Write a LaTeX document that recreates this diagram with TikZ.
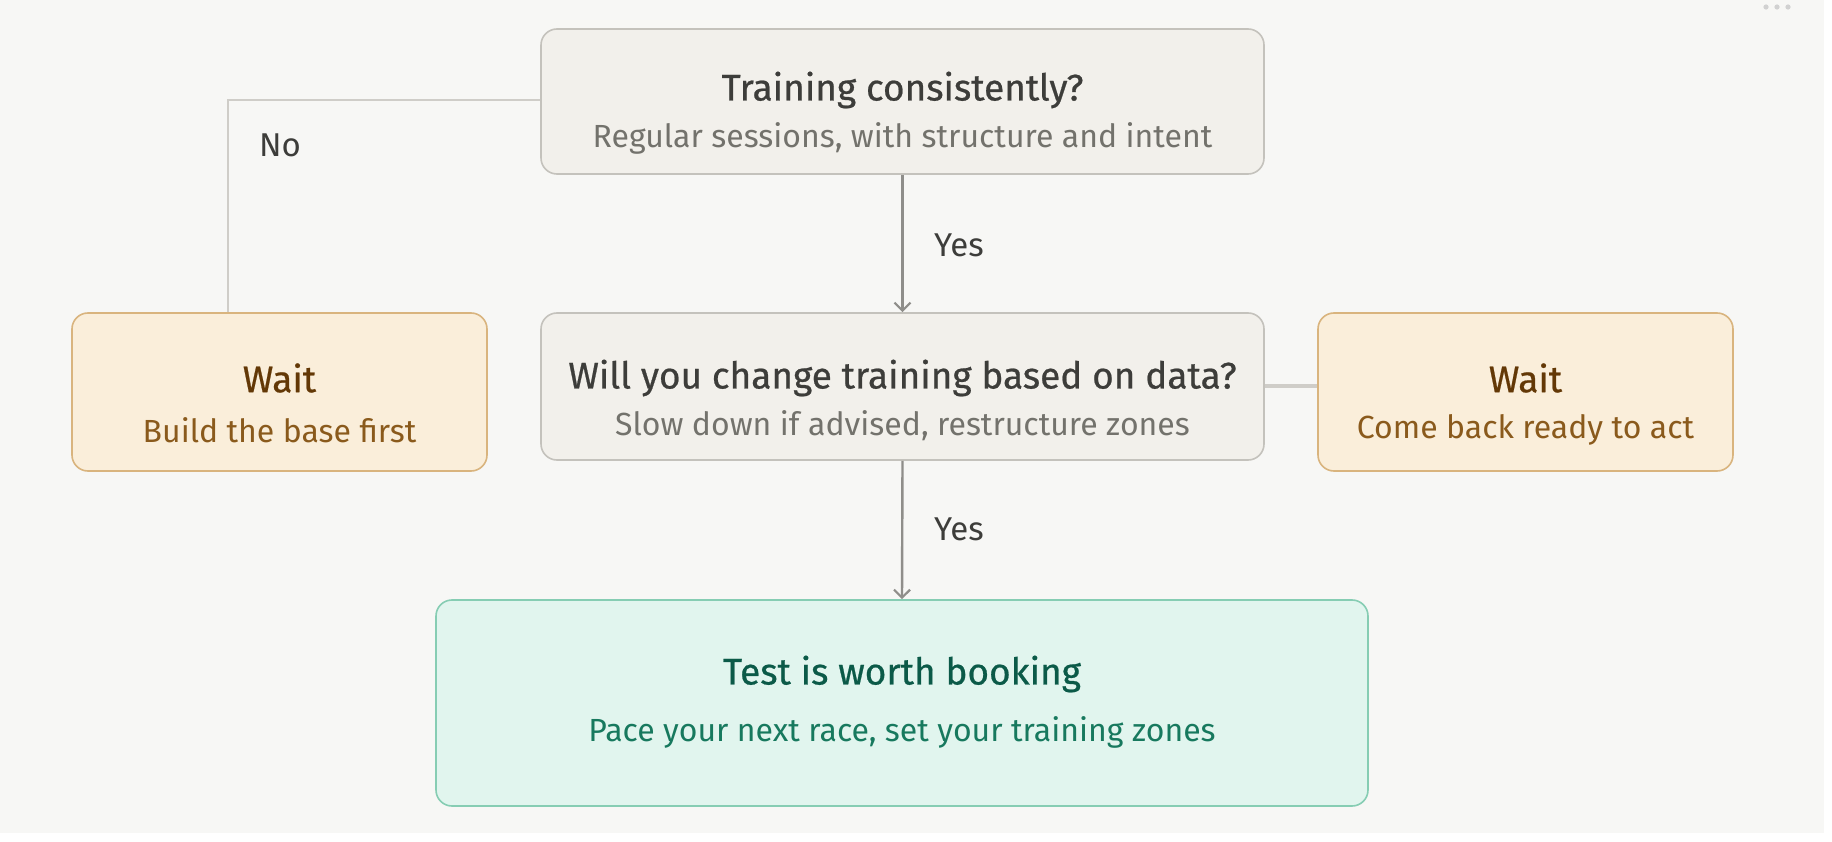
\documentclass[tikz,border=0pt]{standalone}
\usepackage{fontspec}
\setmainfont{Fira Sans}
\newfontfamily\titlefam[FakeBold=0.6]{Fira Sans}
\usetikzlibrary{arrows.meta}
\definecolor{bgpanel}{HTML}{F7F7F5}
\definecolor{grayfill}{HTML}{F2F0EB}
\definecolor{grayline}{HTML}{C4C2BC}
\definecolor{graytitle}{HTML}{3D3D3A}
\definecolor{graysub}{HTML}{73726C}
\definecolor{waitfill}{HTML}{FAEEDA}
\definecolor{waitline}{HTML}{D9B47E}
\definecolor{waittitle}{HTML}{633806}
\definecolor{waitsub}{HTML}{8A5A1C}
\definecolor{okfill}{HTML}{E1F5EE}
\definecolor{okline}{HTML}{86CDB3}
\definecolor{oktitle}{HTML}{0B5A48}
\definecolor{oksub}{HTML}{17795E}
\definecolor{arrowgray}{HTML}{8F8E8A}
\definecolor{linkgray}{HTML}{CFCDC8}
\tikzset{
  box/.style={draw, line width=1.6pt, rounded corners=16pt, inner sep=0pt},
  graybox/.style={box, fill=grayfill, draw=grayline},
  waitbox/.style={box, fill=waitfill, draw=waitline},
  okbox/.style={box, fill=okfill, draw=okline},
  ttl/.style={font=\titlefam\fontsize{37}{42}\selectfont, inner sep=0pt, anchor=center},
  sub/.style={font=\fontsize{32}{36}\selectfont, inner sep=0pt, anchor=center},
  lbl/.style={font=\fontsize{33}{37}\selectfont, text=graytitle, inner sep=0pt},
  flow/.style={draw=arrowgray, line width=2.4pt, -{Straight Barb[length=8pt,width=16pt,line width=2.2pt]}},
  link/.style={draw=linkgray, line width=2pt},
  thicklink/.style={draw=linkgray, line width=3.5pt},
}
\begin{document}
\begin{tikzpicture}[x=1pt,y=-1pt]
\useasboundingbox (0,0) rectangle (1832,842);
\fill[white] (0,0) rectangle (1832,842);
\fill[bgpanel] (0,0) rectangle (1824,833);
% menu dots
\foreach \dx in {0,11,22}{\fill[black!18] (1766+\dx,7) circle (2.6pt);}
% boxes
\node[graybox, minimum width=723pt, minimum height=145pt] (q1) at (902.5,101.5) {};
\node[graybox, minimum width=723pt, minimum height=147pt] (q2) at (902.5,386.5) {};
\node[waitbox, minimum width=415pt, minimum height=158pt] (w1) at (279.5,392) {};
\node[waitbox, minimum width=415pt, minimum height=158pt] (w2) at (1525.5,392) {};
\node[okbox, minimum width=932pt, minimum height=206pt] (ok) at (902,703) {};
% texts
\node[ttl, text=graytitle] (q1t) at (902.5,90) {Training consistently?};
\node[sub, text=graysub] (q1s) at (902.5,138) {Regular sessions, with structure and intent};
\node[ttl, text=graytitle] (q2t) at (902.5,378) {Will you change training based on data?};
\node[sub, text=graysub] (q2s) at (902.5,426) {Slow down if advised, restructure zones};
\node[ttl, text=waittitle] (w1t) at (279.5,378) {Wait};
\node[sub, text=waitsub] (w1s) at (279.5,430) {Build the base first};
\node[ttl, text=waittitle] (w2t) at (1525.5,378) {Wait};
\node[sub, text=waitsub] (w2s) at (1525.5,430) {Come back ready to act};
\node[ttl, text=oktitle] (okt) at (902,674) {Test is worth booking};
\node[sub, text=oksub] (oks) at (902,732) {Pace your next race, set your training zones};
% connectors
\draw[flow] (q1.south) -- (q2.north);
\draw[flow] (q2.south) -- (ok.north);
\coordinate (nocorner) at (228,100);
\draw[link] (q1.west |- nocorner) -- (nocorner) -- (nocorner |- w1.north);
\draw[thicklink] (q2.east |- 0,386) -- (w2.west |- 0,386);
% labels
\node[lbl] (yes1) at (959,245) {Yes};
\node[lbl] (yes2) at (959,529) {Yes};
\node[lbl] (no) at (280,145) {No};
\end{tikzpicture}
\end{document}
